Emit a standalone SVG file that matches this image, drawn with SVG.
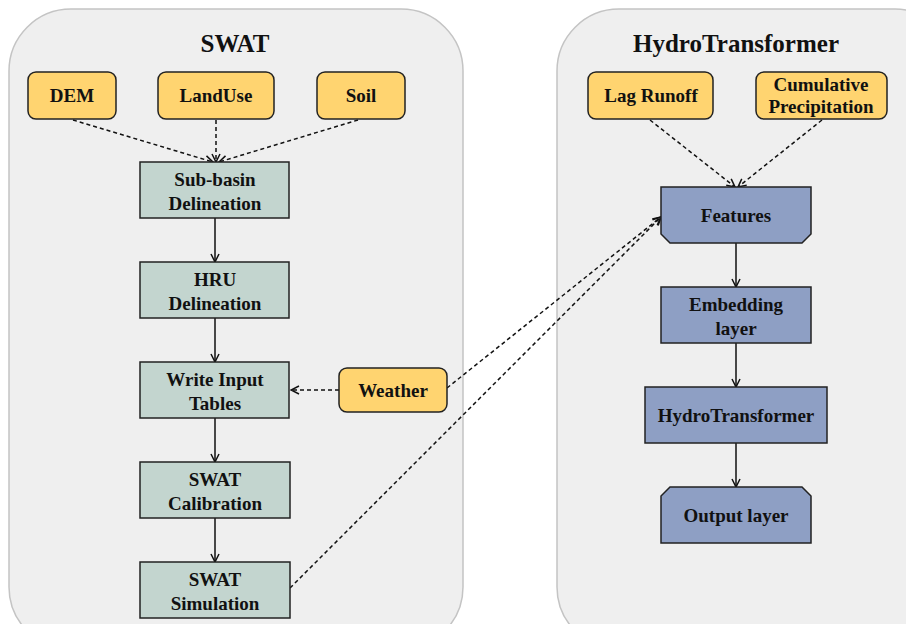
<svg xmlns="http://www.w3.org/2000/svg" width="906" height="624" viewBox="0 0 906 624">
<defs>
<style>
.panel{fill:#efefef;stroke:#c4c4c4;stroke-width:1.5}
.title{font-family:"Liberation Serif","Times New Roman",serif;font-weight:bold;font-size:25px;fill:#111;text-anchor:middle}
.t{font-family:"Liberation Serif","Times New Roman",serif;font-weight:bold;font-size:19px;fill:#111;text-anchor:middle}
.inp{fill:#ffd470;stroke:#222;stroke-width:1.5}
.swat{fill:#c3d5cf;stroke:#222;stroke-width:1.5}
.ht{fill:#8e9fc4;stroke:#222;stroke-width:1.5}
.solid{stroke:#111;stroke-width:1.5;fill:none;marker-end:url(#arr)}
.dash{stroke:#111;stroke-width:1.5;fill:none;stroke-dasharray:4 3;marker-end:url(#arr)}
</style>
<marker id="arr" viewBox="0 0 10 10" refX="9" refY="5" markerWidth="10" markerHeight="10" markerUnits="userSpaceOnUse" orient="auto">
<path d="M1,1 L9,5 L1,9" fill="none" stroke="#111" stroke-width="1.5"/>
</marker>
</defs>
<rect width="906" height="624" fill="#ffffff"/>
<g id="panel-swat">
<rect class="panel" x="9" y="9" width="454" height="640" rx="62"/>
<text class="title" x="235" y="52">SWAT</text>
</g>
<g id="panel-ht">
<rect class="panel" x="557" y="9" width="400" height="640" rx="62"/>
<text class="title" x="736" y="52">HydroTransformer</text>
</g>
<g id="connectors">
<path class="dash" d="M73,120 L213,162"/>
<path class="dash" d="M216,120 L216,162"/>
<path class="dash" d="M358,120 L219,162"/>
<path class="solid" d="M215,218 L215,262"/>
<path class="solid" d="M215,318 L215,362"/>
<path class="dash" d="M339,390 L291,390"/>
<path class="solid" d="M215,418 L215,462"/>
<path class="solid" d="M215,518 L215,562"/>
<path class="dash" d="M447,388 L661,217"/>
<path class="dash" d="M290,588 L661,217"/>
<path class="dash" d="M650,120 L735,187"/>
<path class="dash" d="M822,120 L738,187"/>
<path class="solid" d="M736,243 L736,287"/>
<path class="solid" d="M736,343 L736,387"/>
<path class="solid" d="M736,443 L736,487"/>
</g>
<g id="dem"><rect class="inp" x="28" y="72" width="88" height="47" rx="8"/><text class="t" x="72" y="102">DEM</text></g>
<g id="landuse"><rect class="inp" x="158" y="72" width="116" height="47" rx="8"/><text class="t" x="216" y="102">LandUse</text></g>
<g id="soil"><rect class="inp" x="317" y="72" width="88" height="47" rx="8"/><text class="t" x="361" y="102">Soil</text></g>
<g id="subbasin"><rect class="swat" x="140" y="162" width="149" height="56"/><text class="t" x="215" y="186">Sub-basin</text><text class="t" x="215" y="210">Delineation</text></g>
<g id="hru"><rect class="swat" x="140" y="262" width="149" height="56"/><text class="t" x="215" y="286">HRU</text><text class="t" x="215" y="310">Delineation</text></g>
<g id="write"><rect class="swat" x="140" y="362" width="149" height="56"/><text class="t" x="215" y="386">Write Input</text><text class="t" x="215" y="410">Tables</text></g>
<g id="weather"><rect class="inp" x="339" y="368" width="108" height="44" rx="8"/><text class="t" x="393" y="397">Weather</text></g>
<g id="calibration"><rect class="swat" x="140" y="462" width="150" height="56"/><text class="t" x="215" y="486">SWAT</text><text class="t" x="215" y="510">Calibration</text></g>
<g id="simulation"><rect class="swat" x="140" y="562" width="150" height="56"/><text class="t" x="215" y="586">SWAT</text><text class="t" x="215" y="610">Simulation</text></g>
<g id="lagrunoff"><rect class="inp" x="588" y="72" width="125" height="47" rx="8"/><text class="t" x="651" y="102">Lag Runoff</text></g>
<g id="cumprec"><rect class="inp" x="756" y="72" width="131" height="47" rx="8"/><text class="t" x="821" y="91">Cumulative</text><text class="t" x="821" y="113">Precipitation</text></g>
<g id="features"><path class="ht" d="M661,187 L811,187 L811,234 L802,243 L670,243 L661,234 Z"/><text class="t" x="736" y="222">Features</text></g>
<g id="embedding"><rect class="ht" x="661" y="287" width="150" height="56"/><text class="t" x="736" y="311">Embedding</text><text class="t" x="736" y="335">layer</text></g>
<g id="hydrotransformer"><rect class="ht" x="645" y="387" width="182" height="56"/><text class="t" x="736" y="422">HydroTransformer</text></g>
<g id="output"><path class="ht" d="M670,487 L802,487 L811,496 L811,543 L661,543 L661,496 Z"/><text class="t" x="736" y="522">Output layer</text></g>
</svg>
